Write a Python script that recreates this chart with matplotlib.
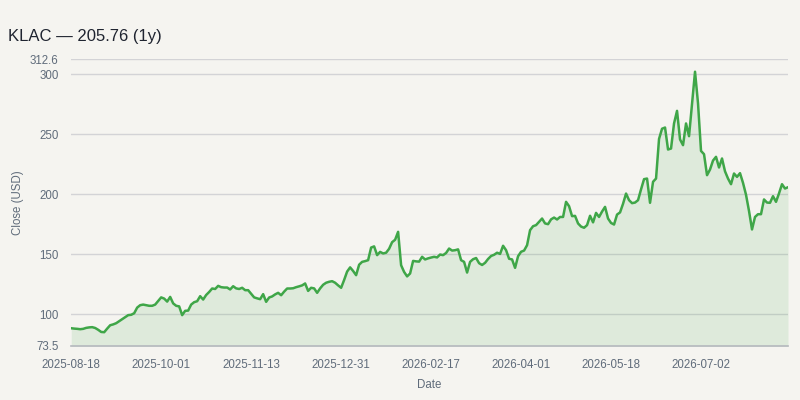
import numpy as np
import matplotlib
matplotlib.use("Agg")
import matplotlib.pyplot as plt

plt.rcParams['font.family'] = ['Liberation Sans', 'DejaVu Sans']

# closing prices, one per trading day
close = [
    88.3, 88.0, 87.8, 87.5, 87.8, 88.6, 89.0, 89.2, 88.5, 87.0,
    85.2, 85.0, 88.0, 90.8, 91.5, 92.5, 94.2, 96.0, 97.5, 99.2,
    99.5, 100.8, 105.5, 107.5, 108.0, 107.5, 107.0, 107.0, 108.0, 111.0,
    114.0, 113.0, 110.5, 114.4, 109.0, 107.0, 106.5, 99.2, 102.8, 103.0,
    108.0, 110.0, 110.8, 115.0, 112.2, 116.0, 118.5, 121.4, 121.0, 123.6,
    122.5, 122.2, 122.2, 120.6, 123.3, 121.5, 121.0, 122.0, 120.0, 120.0,
    117.0, 114.0, 113.2, 112.5, 116.7, 110.3, 113.9, 114.8, 116.5, 117.8,
    115.8, 118.8, 121.4, 121.4, 121.6, 122.5, 123.2, 124.0, 125.6, 119.4,
    122.0, 121.5, 117.8, 121.5, 124.5, 126.2, 127.0, 127.5, 126.2, 124.0,
    122.0, 128.5, 135.5, 139.0, 136.0, 132.5, 141.2, 143.6, 144.2, 145.0,
    155.5, 156.5, 149.2, 151.9, 150.6, 151.2, 154.5, 160.0, 162.0, 168.6,
    140.8, 135.2, 131.5, 133.9, 144.4, 144.0, 143.8, 147.8, 145.6, 146.5,
    147.2, 147.8, 147.3, 149.7, 149.2, 151.0, 154.7, 153.0, 153.3, 154.0,
    145.0, 143.6, 134.7, 143.6, 145.8, 146.8, 142.5, 141.0, 142.8, 146.0,
    148.5, 149.5, 151.2, 150.2, 157.0, 153.3, 146.2, 145.6, 138.6, 148.3,
    152.0, 153.0, 157.5, 170.0, 173.3, 174.2, 177.0, 179.7, 175.6, 175.0,
    179.0, 180.5, 178.9, 181.0, 181.0, 193.6, 190.0, 181.7, 181.9, 175.6,
    173.0, 172.0, 174.2, 182.0, 176.5, 184.4, 181.0, 185.5, 189.4, 179.7,
    176.0, 174.7, 183.0, 184.8, 192.0, 200.5, 195.0, 192.5, 193.0, 195.0,
    204.0, 212.5, 213.0, 192.8, 210.3, 213.0, 246.0, 254.5, 255.5, 237.2,
    238.0, 258.9, 269.4, 245.6, 240.8, 258.9, 248.3, 275.6, 302.0, 275.6,
    236.0, 233.3, 215.8, 220.5, 228.0, 231.1, 222.2, 229.7, 219.0, 213.0,
    208.3, 217.2, 214.4, 217.5, 209.4, 199.5, 186.0, 170.6, 181.0, 183.3,
    183.3, 195.6, 193.0, 192.8, 198.3, 193.6, 200.6, 208.3, 204.7, 205.76,
]

date_labels = ['2025-08-18', '2025-10-01', '2025-11-13', '2025-12-31',
               '2026-02-17', '2026-04-01', '2026-05-18', '2026-07-02']
y_ticks = [73.5, 100, 150, 200, 250, 300, 312.6]

bg = '#f5f4f0'
green = '#3fa648'
grey_txt = '#5f6b7a'

x = np.arange(len(close))
y_lo, y_hi = 73.5, 312.6

fig = plt.figure(figsize=(8, 4), dpi=100, facecolor=bg)
ax = fig.add_axes([0.089, 0.135, 0.896, 0.7175], facecolor=bg)

for v in y_ticks[1:]:
    ax.axhline(v, color='#d3d3d6', lw=1.0, zorder=1)

ax.fill_between(x, close, y_lo, color=green, alpha=0.12, lw=0, zorder=2)
ax.plot(x, close, color=green, lw=1.8, zorder=3, solid_joinstyle='round')

ax.set_xlim(0, len(close) - 1)
ax.set_ylim(y_lo, y_hi)
ax.set_xticks(np.arange(0, len(close), 30)[:len(date_labels)])
ax.set_xticklabels(date_labels)
ax.set_yticks(y_ticks)
ax.set_yticklabels(['73.5', '100', '150', '200', '250', '300', '312.6'])
ax.tick_params(length=0, colors=grey_txt, labelsize=8.3)
ax.tick_params(axis='y', pad=9)
ax.tick_params(axis='x', pad=9)

for s in ['top', 'right', 'left']:
    ax.spines[s].set_visible(False)
ax.spines['bottom'].set_color('#b4b8bd')
ax.spines['bottom'].set_linewidth(1.2)

ax.set_xlabel('Date', color=grey_txt, fontsize=8.3, labelpad=6)
ax.set_ylabel('Close (USD)', color=grey_txt, fontsize=8.3, labelpad=4)

fig.text(0.01, 0.908, 'KLAC \u2014 205.76 (1y)', fontsize=12, color='#1f2430',
         va='center', ha='left')

fig.savefig('out.png', dpi=100, facecolor=bg)
